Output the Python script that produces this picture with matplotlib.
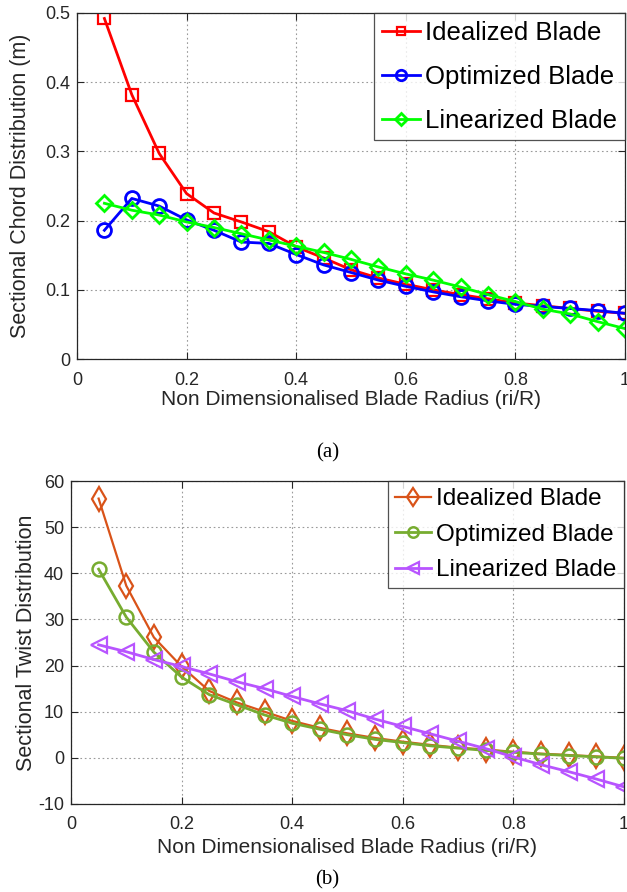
import matplotlib
matplotlib.use("Agg")
import matplotlib.pyplot as plt

plt.rcParams['font.family'] = ['Liberation Sans', 'DejaVu Sans']
plt.rcParams['axes.unicode_minus'] = False

# Radial stations (r_i / R)
radius = [0.05, 0.10, 0.15, 0.20, 0.25, 0.30, 0.35, 0.40, 0.45, 0.50,
          0.55, 0.60, 0.65, 0.70, 0.75, 0.80, 0.85, 0.90, 0.95, 1.00]

# Chord distribution (m)
chord_idealized = [0.492, 0.382, 0.297, 0.239, 0.211, 0.198, 0.184, 0.162, 0.146, 0.129,
                   0.117, 0.108, 0.100, 0.093, 0.087, 0.081, 0.077, 0.073, 0.069, 0.066]
chord_optimized = [0.186, 0.232, 0.221, 0.201, 0.186, 0.169, 0.167, 0.151, 0.136, 0.125,
                   0.114, 0.105, 0.097, 0.090, 0.084, 0.079, 0.076, 0.073, 0.070, 0.066]
chord_linearized = [0.225, 0.215, 0.208, 0.198, 0.190, 0.181, 0.172, 0.163, 0.154, 0.144,
                    0.133, 0.123, 0.114, 0.104, 0.093, 0.083, 0.072, 0.065, 0.054, 0.044]

# Twist distribution (deg)
twist_idealized = [56.2, 37.3, 26.1, 19.8, 14.5, 12.0, 10.0, 8.0, 6.5, 5.3,
                   4.3, 3.5, 2.8, 2.2, 1.8, 1.3, 0.9, 0.6, 0.3, 0.0]
twist_optimized = [40.9, 30.5, 22.9, 17.5, 13.7, 11.5, 9.3, 7.5, 6.2, 5.0,
                   4.0, 3.3, 2.6, 2.1, 1.6, 1.2, 0.8, 0.5, 0.2, -0.1]
twist_linearized = [24.5, 23.0, 21.3, 19.8, 18.2, 16.5, 15.0, 13.3, 11.7, 10.2,
                    8.4, 6.8, 5.2, 3.6, 2.0, 0.2, -1.5, -3.0, -4.6, -6.3]

labels = ['Idealized Blade', 'Optimized Blade', 'Linearized Blade']
x_ticks = [0, 0.2, 0.4, 0.6, 0.8, 1]
x_ticklabels = ['0', '0.2', '0.4', '0.6', '0.8', '1']
chord_ticks = [0, 0.1, 0.2, 0.3, 0.4, 0.5]
chord_ticklabels = ['0', '0.1', '0.2', '0.3', '0.4', '0.5']
twist_ticks = [-10, 0, 10, 20, 30, 40, 50, 60]

xlabel = 'Non Dimensionalised Blade Radius (ri/R)'
INK = '#262626'

fig = plt.figure(figsize=(6.27, 8.92), dpi=100)


def style_axes(ax):
    ax.grid(True, linestyle=(0, (1.5, 2.5)), color='#9a9a9a', linewidth=0.8)
    ax.set_axisbelow(True)
    for s in ax.spines.values():
        s.set_color(INK)
        s.set_linewidth(0.9)
    ax.tick_params(direction='in', top=True, right=True, length=5,
                   labelsize=13, labelcolor=INK, color=INK)
    ax.tick_params(axis='x', pad=9)
    ax.tick_params(axis='y', pad=5)
    ax.set_xlim(0, 1)
    ax.set_xticks(x_ticks)
    ax.set_xticklabels(x_ticklabels)


def add_legend(ax, size, spacing):
    leg = ax.legend(loc='upper right', fontsize=size, frameon=True, fancybox=False,
                    edgecolor=INK, borderaxespad=0.0, handlelength=1.5,
                    handletextpad=0.2, borderpad=0.3, labelspacing=spacing,
                    markerscale=0.75)
    leg.get_frame().set_linewidth(0.9)
    return leg


# (a) chord distribution
ax1 = fig.add_axes([0.1228, 0.5975, 0.874, 0.388])
style_axes(ax1)
ax1.plot(radius, chord_idealized, color=(1, 0, 0), marker='s', mfc='none',
         ms=8, mew=1.6, lw=2.0, label=labels[0])
ax1.plot(radius, chord_optimized, color=(0, 0, 1), marker='o', mfc='none',
         ms=10, mew=2.0, lw=2.0, label=labels[1])
ax1.plot(radius, chord_linearized, color=(0, 1, 0), marker='D', mfc='none',
         ms=8, mew=2.0, lw=2.0, label=labels[2])
ax1.set_ylim(0, 0.5)
ax1.set_yticks(chord_ticks)
ax1.set_yticklabels(chord_ticklabels)
ax1.set_xlabel(xlabel, fontsize=15, color=INK, labelpad=1)
ax1.set_ylabel('Sectional Chord Distribution (m)', fontsize=15.5, color=INK, labelpad=10)
add_legend(ax1, 18.5, 0.78)

fig.text(0.522, 1 - 453 / 892, '(a)', ha='center', va='center', fontsize=15,
         family=['Liberation Serif', 'DejaVu Serif'])

# (b) twist distribution
ax2 = fig.add_axes([0.1132, 0.0987, 0.882, 0.362])
style_axes(ax2)
ax2.plot(radius, twist_idealized, color=(0.85, 0.325, 0.098), marker='d', mfc='none',
         ms=12.5, mew=1.6, lw=1.6, label=labels[0])
ax2.plot(radius, twist_optimized, color=(0.466, 0.674, 0.188), marker='o', mfc='none',
         ms=10, mew=1.8, lw=2.0, label=labels[1])
ax2.plot(radius, twist_linearized, color=(0.72, 0.33, 1.0), marker='<', mfc='none',
         ms=11, mew=1.6, lw=2.0, label=labels[2])
ax2.set_ylim(-10, 60)
ax2.set_yticks(twist_ticks)
ax2.set_xlabel(xlabel, fontsize=15, color=INK, labelpad=3)
ax2.set_ylabel('Sectional Twist Distribution', fontsize=15.5, color=INK, labelpad=1)
add_legend(ax2, 17.5, 0.55)

fig.text(0.522, 1 - 880 / 892, '(b)', ha='center', va='center', fontsize=15,
         family=['Liberation Serif', 'DejaVu Serif'])

fig.savefig('out.png', dpi=100)
